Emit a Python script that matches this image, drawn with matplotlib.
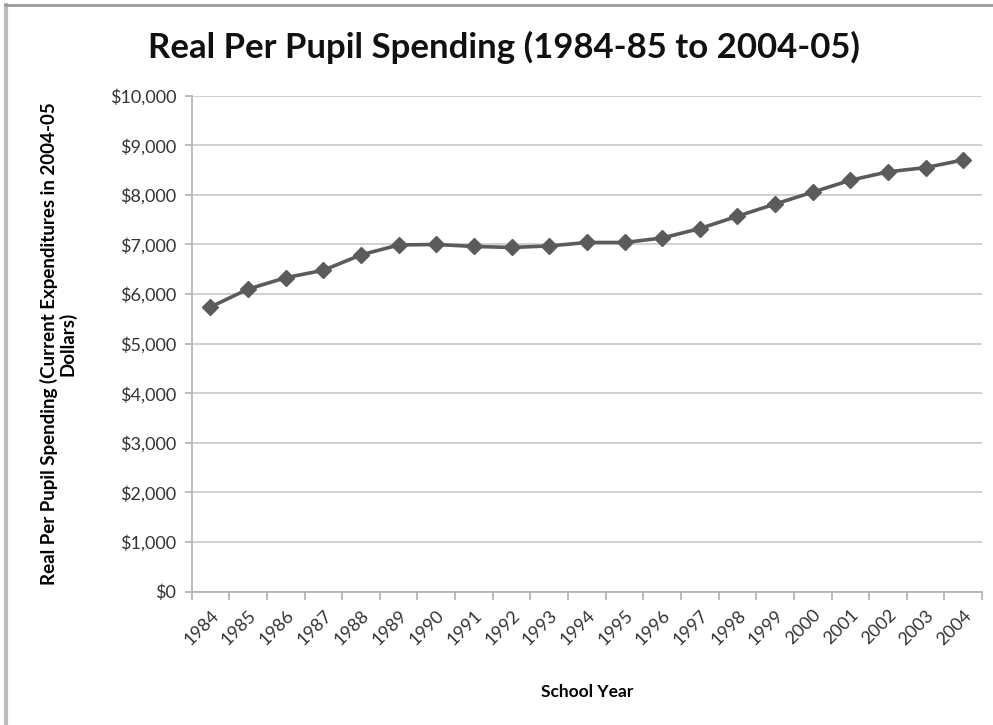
import matplotlib.pyplot as plt
from matplotlib.lines import Line2D
from matplotlib.ticker import FuncFormatter, FixedLocator

years = [1984, 1985, 1986, 1987, 1988, 1989, 1990, 1991, 1992, 1993, 1994,
         1995, 1996, 1997, 1998, 1999, 2000, 2001, 2002, 2003, 2004]
spending = [5740, 6100, 6330, 6480, 6790, 6990, 7000, 6960, 6940, 6970, 7040,
            7040, 7130, 7320, 7570, 7815, 8055, 8295, 8465, 8550, 8705]
y_ticks = [0, 1000, 2000, 3000, 4000, 5000, 6000, 7000, 8000, 9000, 10000]

plt.rcParams['font.family'] = ['Lato', 'DejaVu Sans']

fig = plt.figure(figsize=(9.93, 7.25), dpi=100)
ax = fig.add_axes([0.193, 0.184, 0.796, 0.684])

pos = list(range(len(years)))
ax.plot(pos, spending, color='#5b5b5b', linewidth=2.6, marker='D',
        markersize=8, markerfacecolor='#5b5b5b', markeredgecolor='#5b5b5b', zorder=3)

ax.set_xlim(-0.5, len(years) - 0.5)
ax.set_ylim(0, 10000)
ax.set_yticks(y_ticks)
ax.yaxis.set_major_formatter(FuncFormatter(lambda v, p: '${:,.0f}'.format(v)))
ax.grid(axis='y', color='#c8c8c8', linewidth=1.2)
ax.set_axisbelow(True)

# category labels centred, tick marks between categories
ax.set_xticks(pos)
ax.set_xticklabels([str(y) for y in years], rotation=45, ha='right',
                   rotation_mode='anchor', fontsize=13, color='#333333')
ax.tick_params(axis='x', which='major', length=0, pad=11)
ax.xaxis.set_minor_locator(FixedLocator([p - 0.5 for p in pos] + [len(years) - 0.5]))
ax.tick_params(axis='x', which='minor', length=6, color='#b0b0b0', width=1.2)
ax.tick_params(axis='y', length=5, color='#b0b0b0', width=1.2, labelsize=13,
               labelcolor='#333333', pad=6)

for s in ['top', 'right']:
    ax.spines[s].set_visible(False)
for s in ['left', 'bottom']:
    ax.spines[s].set_color('#b0b0b0')
    ax.spines[s].set_linewidth(1.2)

ax.set_xlabel('School Year', fontsize=12.5, fontweight='bold', labelpad=26)
ax.set_ylabel('Real Per Pupil Spending (Current Expenditures in 2004-05\nDollars)',
              fontsize=13.5, fontweight='bold', labelpad=24, linespacing=1.05)

fig.text(0.507, 0.935, 'Real Per Pupil Spending (1984-85 to 2004-05)',
         ha='center', va='center', fontsize=25, fontweight='bold', color='#111111')

# outer chart frame
fig.add_artist(Line2D([0.0065, 0.0065], [0, 0.993], transform=fig.transFigure,
                      color='#bdbdbd', linewidth=3))
fig.add_artist(Line2D([0.005, 1], [0.993, 0.993], transform=fig.transFigure,
                      color='#9a9a9a', linewidth=2))

fig.savefig('out.png', dpi=100)
